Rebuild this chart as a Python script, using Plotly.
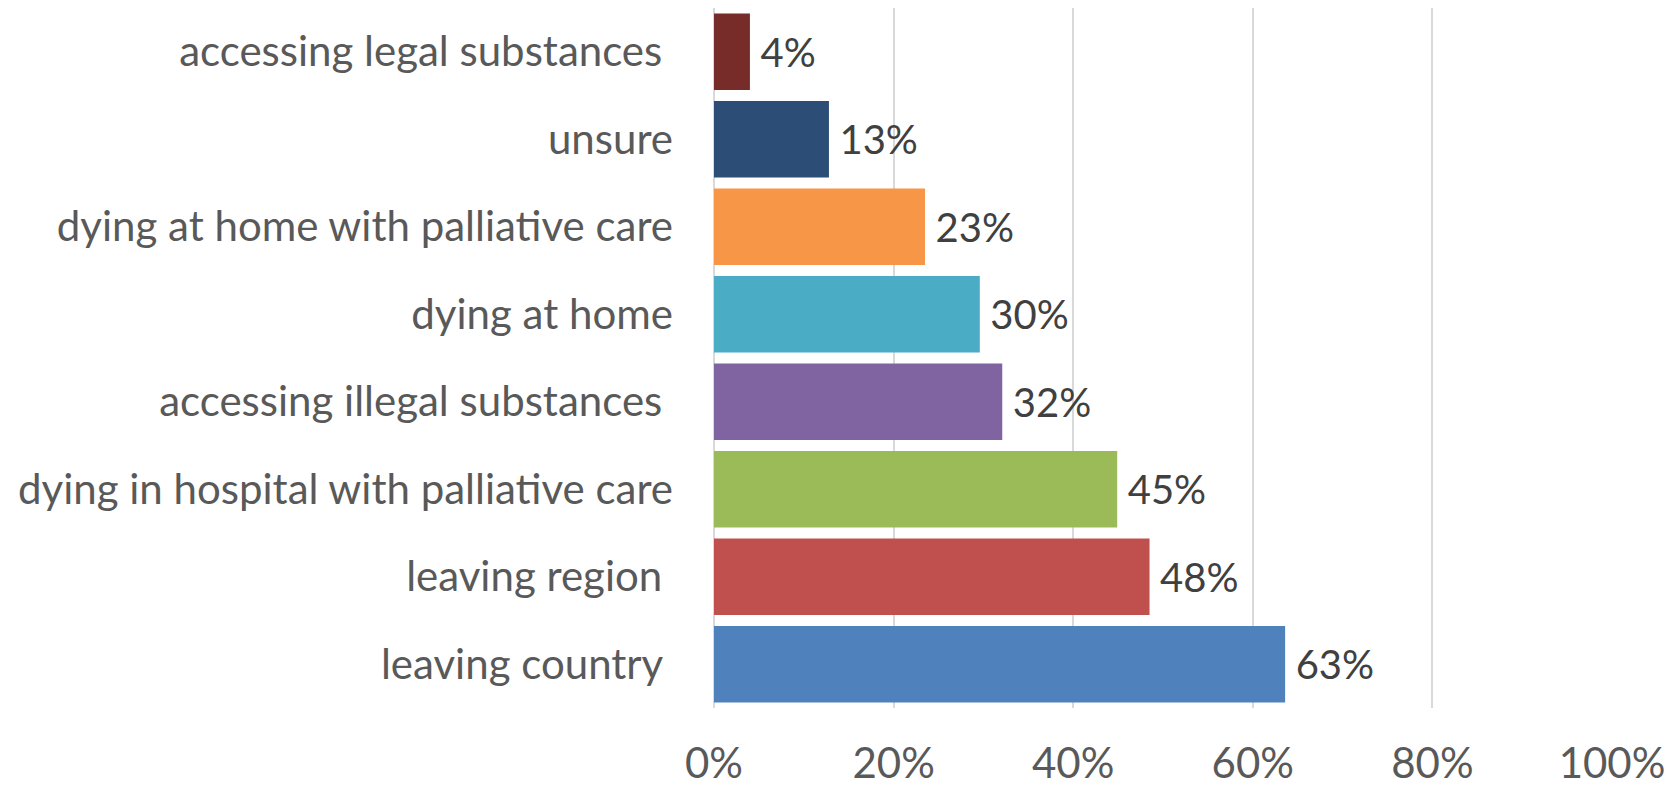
import plotly.graph_objects as go

categories = [
    "leaving country\u00a0",
    "leaving region\u00a0",
    "dying in hospital with palliative care",
    "accessing illegal substances\u00a0",
    "dying at home",
    "dying at home with palliative care",
    "unsure",
    "accessing legal substances\u00a0",
]
values = [0.636, 0.485, 0.449, 0.321, 0.296, 0.235, 0.128, 0.040]
value_labels = ["63%", "48%", "45%", "32%", "30%", "23%", "13%", "4%"]
colors = ["#4F81BD", "#C0504D", "#9BBB59", "#8064A2", "#4BACC6", "#F79646", "#2C4D75", "#772C2A"]
x_ticks = [0, 0.2, 0.4, 0.6, 0.8, 1.0]
x_tick_labels = ["0%", "20%", "40%", "60%", "80%", "100%"]

FONT = "Lato"
SIZE = 42

fig = go.Figure(
    go.Bar(
        y=categories,
        x=values,
        orientation="h",
        marker=dict(color=colors, line=dict(width=0)),
        text=["\u2009\u200a" + t for t in value_labels],
        textposition="outside",
        textfont=dict(family=FONT, size=40, color="#404040"),
        cliponaxis=False,
    )
)

fig.update_layout(
    width=1669,
    height=779,
    margin=dict(l=706, r=65, t=0, b=79, autoexpand=False),
    plot_bgcolor="white",
    paper_bgcolor="white",
    bargap=0.125,
    showlegend=False,
    font=dict(family=FONT, size=SIZE, color="#595959"),
)
fig.update_xaxes(
    range=[0, 1.0],
    tickvals=x_ticks,
    ticktext=x_tick_labels,
    automargin=False,
    showgrid=True,
    gridcolor="#D9D9D9",
    gridwidth=1.5,
    zeroline=True,
    zerolinecolor="#D9D9D9",
    zerolinewidth=1.5,
    showline=False,
    ticks="",
    ticklabelstandoff=27,
    tickfont=dict(family=FONT, size=SIZE, color="#595959"),
)
fig.update_yaxes(
    categoryorder="array",
    categoryarray=categories,
    automargin=False,
    showgrid=False,
    ticks="",
    ticklabelstandoff=40,
    tickfont=dict(family=FONT, size=SIZE, color="#595959"),
)

fig.write_html("out.html")
